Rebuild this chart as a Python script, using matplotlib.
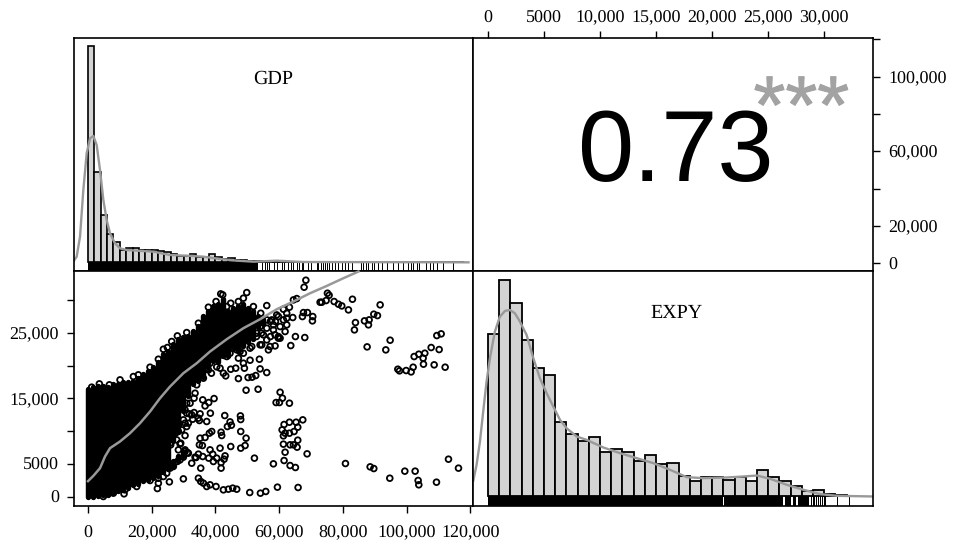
import matplotlib
matplotlib.use("Agg")
import matplotlib.pyplot as plt
import matplotlib.patheffects as pe

plt.rcParams["text.hinting"] = "no_hinting"
plt.rcParams["text.hinting_factor"] = 1

W, H = 955, 546
SERIF = "Liberation Serif"
SANS = "Liberation Sans"
GREY = "#999999"
BARC = "#d3d3d3"

# ---- histogram of GDP (bin width 2000, starting at 0)
gdp_bin_width = 2000
gdp_hist = [649, 272, 142, 84, 60, 37, 42, 42, 37, 37, 37, 35, 32, 25, 19, 19, 25, 17, 15, 25,
            15, 11, 12, 7, 6, 5, 4, 3, 5, 3, 3, 2, 2, 2, 1, 1, 1, 1, 1, 1,
            1, 1, 1, 1, 1, 1, 1, 1, 1, 1, 1, 1, 1, 1, 1, 1, 1, 0, 0]
gdp_kde_x = [-4610, -3560, -2510, -1470, -420, 630, 1680, 2720, 3770, 4820, 5860, 6910, 8480, 10050,
             12150, 15290, 20520, 25760, 30990, 36230, 41460, 46700, 51930, 59260, 67640, 119460]
gdp_kde_y = [2, 17, 77, 217, 327, 372, 379, 352, 277, 187, 127, 87, 57, 42,
             37, 35, 32, 22, 20, 17, 10, 5, 2, 5, 1, 0]
gdp_rug_dense = (0, 53500)
gdp_rug = [54550, 55600, 56120, 56960, 58430, 59260, 60830, 61560, 62920, 63660, 64500, 65750, 66380, 67110,
           67640, 69210, 69940, 71830, 72350, 73080, 73710, 74440, 75170, 75800, 76530, 77580, 78630, 79680,
           80720, 81770, 82820, 85650, 86480, 87320, 88050, 89100, 89830, 91190, 92240, 93810, 95900, 97480,
           98840, 100620, 101350, 102190, 103230, 104070, 106160, 107420, 108470, 109520, 111400, 114750]

# ---- histogram of EXPY (bin width 1000, starting at 0)
expy_bin_width = 1000
expy_hist = [486, 648, 580, 469, 383, 363, 223, 186, 166, 176, 133, 141, 133, 106, 123, 96, 100, 58, 43, 55,
             55, 47, 56, 43, 76, 56, 45, 29, 13, 17, 5, 1]
expy_kde_x = [-1310, -1010, -710, -420, -120, 180, 620, 1070, 1520, 1960, 2410, 2860, 3450, 4050, 4640, 5240,
              5830, 6430, 7020, 7920, 8810, 10300, 11790, 13270, 14760, 16250, 17740, 19220, 21310, 22800,
              23990, 25180, 26660, 28150, 29640, 31130, 34400]
expy_kde_y = [45, 93, 163, 253, 343, 413, 493, 538, 555, 558, 548, 523, 483, 413, 353, 308,
              268, 228, 203, 178, 168, 145, 128, 113, 98, 78, 56, 53, 55, 58,
              61, 51, 33, 18, 5, 0, -2]
expy_rug_dense = [(0, 20980), (21060, 26340), (26480, 27060), (27230, 27500), (27680, 28660), (28840, 28930),
                  (29020, 29150), (29240, 29330), (29420, 29510), (29600, 29740), (29825, 29915), (30000, 30140)]
expy_rug = [31140, 32170]

# ---- scatter: densely overplotted core, as EXPY extents for GDP columns
core_gdp = [0, 1570, 3140, 4710, 6280, 7850, 9420, 10990, 12560, 14130, 15700, 17270, 18840, 20410, 21980,
            23550, 25120, 26690, 26690, 28260, 28260, 29830, 29830, 31400, 32970, 34540, 36110, 37680, 39250,
            40820, 42390, 43960, 45530, 47100, 48670, 50240, 51810, 53380, 54950]
core_low = [0, 0, 100, 200, 300, 500, 800, 1000, 1300, 1700, 1900, 2300, 2500, 2800, 3200,
            3700, 4200, 4735, 8560, 5500, 10090, 6265, 13150, 15445, 17230, 17740, 18250, 19780, 20800,
            20545, 21565, 21565, 22840, 22330, 23095, 23605, 24115, 25900, 26410]
core_high = [16430, 16690, 16940, 16940, 16690, 17200, 17200, 17450, 17450, 17700, 18060, 18720, 19240, 19750, 20510,
             21790, 22300, 5465, 23315, 6230, 24080, 6740, 24335, 24590, 25355, 26120, 27650, 28415, 29180,
             29435, 30200, 28415, 28925, 29180, 29435, 28925, 28415, 27650, 27140]

# ---- scatter: individually readable points
gdp_points = [68400, 67850, 65540, 64500, 75170, 75700, 72870, 73390, 74760, 77270, 78630, 79680, 81770, 83030,
              91720, 90880, 89730, 88260, 86800, 88050, 83970, 83650, 70460, 70570, 68890, 67640, 67320, 64290,
              62400, 61880, 65120, 68060, 63660, 87630, 94860, 93500, 102400, 103860, 105750, 107740, 110250,
              109520, 110880, 105220, 105330, 108680, 112130, 102080, 101450, 99880, 97790, 97270,
              60310, 59050, 60100, 61040, 63240, 53400, 49630, 56120, 54030, 53820, 50880, 52660, 51510, 50260,
              47220, 43240, 42510, 44810, 46380, 40410, 38740, 37060, 48790, 49100, 47220, 56640, 58740, 59780, 56120,
              39580, 37900, 36020, 36750, 38420, 35180, 42930, 47850, 47950, 44600, 43760, 45020, 37270, 34970,
              32880, 47950, 49630, 49310, 47950, 44810, 41460, 41780, 41980, 38840, 38110, 36750, 35180, 34970,
              35910, 30470, 28900, 28370, 24710, 38320, 39160, 37900, 36020, 34660, 40410, 39370, 41780, 42720,
              43030, 41780, 33920, 32560, 35390, 52250, 58210, 61560, 63450, 65120, 68790, 61880, 61350, 63450,
              64500, 65650, 65860, 67430, 65330, 63240, 61560, 60940, 61880, 63240, 64700, 65860, 61350, 80830,
              88580, 89730, 94750, 99470, 102710, 103650, 103860, 109410, 113180, 116320,
              34660, 35390, 36230, 37270, 38320, 40200, 42510, 44080, 45440, 46700, 50780, 54130, 55810, 59470,
              65960, 29940, 25550, 21780, 22090, 11310,
              1150, 3560, 6700, 10050, 14240, 15810, 19470, 22090, 23660, 24920, 26280, 28060, 30990, 34660, 37800,
              40200, 41670, 42300, 43560, 44810, 47220, 48790, 49840, 51930, 54230, 56120, 58210, 60310, 61350,
              63240, 54550, 51410, 47740, 45650, 43560, 41460, 37800, 36230, 34130, 33610, 30990, 30990, 32560,
              30470, 28370, 27330, 25760, 30470, 31510, 28900, 26800, 24710, 22090, 19470, 15290, 11620, 7960,
              4820, 29940, 31510, 27850, 28370,
              57270, 58840, 56120, 58210, 59780, 57270, 54450, 52880, 56120, 61350, 59260, 62400,
              32040, 33290, 30470, 31830, 33290, 34660, 30990, 29420, 27640, 25970, 29110, 30470, 31200, 33610,
              29940, 28060, 25760, 23660, 34130, 35700, 36750, 38320, 41980, 44600, 46700, 48790, 50880, 54030,
              57170, 55070, 58740, 60310, 57690, 62400, 59780, 54030, 52980]
expy_points = [33100, 32030, 30290, 30090, 31110, 30800, 29730, 29730, 29990, 29840, 29430, 29170, 28560, 30190,
               29330, 27690, 27900, 27030, 26880, 26270, 26620, 25500, 26880, 27540, 28150, 28150, 27540, 27390,
               27290, 25250, 24480, 24330, 23100, 22900, 23920, 22440, 21420, 21780, 21930, 22800, 22490,
               24630, 24890, 21170, 20250, 20150, 19790, 19790, 19070, 19280, 19230, 19480,
               15960, 14380, 14380, 15050, 14280, 16420, 16270, 18970, 19530, 21010, 20860, 18510, 18260, 18210,
               18050, 18460, 18870, 19480, 19640, 19840, 18870, 19480, 20400, 19640, 21170, 22440, 23050, 24230, 29220,
               14990, 14380, 14790, 13870, 12750, 12650, 12390, 12340, 11780, 11420, 10710, 10910, 11480, 11630,
               11830, 9950, 8930, 7800, 7400, 7650, 7400, 9840, 9330, 9950, 9690, 9030, 8930, 7910,
               7800, 9330, 8060, 7140, 7550, 7140, 6480, 5870, 6120, 6480, 5870, 5360, 5200, 5710,
               6220, 4340, 5970, 5100, 4340, 5870, 5000, 5510, 4740, 4440, 6530, 6780, 8010, 7910,
               7910, 7550, 8620, 11730, 11370, 11370, 11020, 10200, 9690, 9690, 9950, 10610, 9280, 5050,
               4540, 4280, 2800, 3880, 3880, 2450, 1790, 2190, 5710, 4340,
               2800, 2300, 2040, 1530, 1790, 1530, 1020, 1120, 1280, 1120, 610, 510, 770, 1430,
               1380, 2700, 2240, 1220, 2040, 410,
               16730, 17240, 17090, 17850, 18360, 18620, 19790, 21010, 22540, 22800, 23720, 24580, 25090, 26520, 28970,
               29840, 31010, 30860, 29070, 29580, 29840, 30350, 31210, 29070, 28050, 27030, 26270, 24230, 28660,
               28970, 23210, 22950, 22190, 22700, 21420, 19640, 19380, 18110, 17090, 15810, 14280, 12750, 12500,
               11220, 9950, 9690, 8160, 6890, 6630, 5610, 4590, 3570, 2800, 2450, 1530, 1020, 510,
               0, 11730, 11220, 8670, 10960,
               26780, 26780, 25760, 25500, 24480, 24480, 24990, 24480, 23970, 27030, 27790, 28050,
               14280, 15050, 13260, 12650, 12850, 11990, 10710, 10200, 9790, 7910, 8160, 7140, 6730, 6020,
               6020, 5360, 4340, 3060, 18360, 18870, 19640, 20400, 21680, 21930, 22440, 21930, 22700, 23210,
               22950, 24740, 24740, 26010, 27030, 26270, 27540, 26010, 24990]
loess_gdp = [0, 1680, 3770, 5340, 6910, 10050, 13190, 16330, 19470, 22620, 25760, 29940, 34130, 38320, 43560,
             48790, 54030, 59260, 64500, 69730, 74970, 80200, 84910]
loess_expy = [2350, 3160, 4340, 6120, 7400, 8420, 9690, 11220, 13000, 15050, 16830, 18870, 20400, 22190, 24070,
              25760, 27130, 28660, 29840, 31110, 32230, 33410, 34430]

# ---- ticks and labels
gdp_ticks = [0, 20000, 40000, 60000, 80000, 100000, 120000]
gdp_ticklabels = ["0", "20,000", "40,000", "60,000", "80,000", "100,000", "120,000"]
expy_left_ticks = [0, 5000, 10000, 15000, 20000, 25000, 30000]
expy_left_labels = ["0", "5000", "", "15,000", "", "25,000", ""]
expy_top_ticks = [0, 5000, 10000, 15000, 20000, 25000, 30000]
expy_top_labels = ["0", "5000", "10,000", "15,000", "20,000", "25,000", "30,000"]
gdp_right_ticks = [0, 20000, 40000, 60000, 80000, 100000, 120000]
gdp_right_labels = ["0", "20,000", "", "60,000", "", "100,000", ""]
corr_text = "0.73"
stars_text = "***"

fig = plt.figure(figsize=(W / 100, H / 100), dpi=100, facecolor="white")


def panel(x0, y0, x1, y1):
    ax = fig.add_axes([x0 / W, 1 - y1 / H, (x1 - x0) / W, (y1 - y0) / H])
    for s in ax.spines.values():
        s.set_linewidth(1.2)
    ax.tick_params(length=5, width=1.0, labelsize=13.1, labelfontfamily=SERIF)
    ax.set_xticks([])
    ax.set_yticks([])
    return ax


XL, XM, XR = 73.5, 473.2, 873
YT, YM, YB = 38, 271, 505.8
GDP_LIM = (-4555, 120940)
EXPY_LIM = (-1312, 34348)

# top-left: GDP histogram
ax = panel(XL, YT, XM, YM)
ax.set_xlim(*GDP_LIM)
ax.set_ylim(-26, 673)
ax.bar([i * gdp_bin_width for i in range(len(gdp_hist))], gdp_hist, width=gdp_bin_width, align="edge",
       color=BARC, edgecolor="black", linewidth=1.2)
ax.broken_barh([(gdp_rug_dense[0], gdp_rug_dense[1] - gdp_rug_dense[0])], (-26, 26), color="black", linewidth=0)
ax.vlines(gdp_rug, -26, 0, color="black", linewidth=0.7)
ax.plot(gdp_kde_x, gdp_kde_y, color=GREY, linewidth=1.7)
ax.text(0.5, 0.8235, "GDP", transform=ax.transAxes, ha="center", va="center", family=SERIF, fontsize=14.4)

# top-right: correlation
ax = panel(XM, YT, XR, YM)
ax.set_xlim(*EXPY_LIM)
ax.set_ylim(-4129, 120804)
ax.xaxis.tick_top()
ax.yaxis.tick_right()
ax.set_xticks(expy_top_ticks, expy_top_labels)
ax.set_yticks(gdp_right_ticks, gdp_right_labels)
ax.tick_params(axis="x", pad=3.4)
ax.tick_params(axis="y", pad=6.2)
ax.text(0.505, 0.50, corr_text, transform=ax.transAxes, ha="center", va="center", family=SANS, fontsize=73)
ax.text(0.8208, 0.683, stars_text, transform=ax.transAxes, ha="center", va="center", family=SANS,
        fontsize=59, color="#a3a3a3",
        path_effects=[pe.withStroke(linewidth=0.7, foreground="#a3a3a3")])

# bottom-left: scatter
ax = panel(XL, YM, XM, YB)
ax.set_xlim(*GDP_LIM)
ax.set_ylim(-1422, 34511)
ax.set_xticks(gdp_ticks, gdp_ticklabels)
ax.set_yticks(expy_left_ticks, expy_left_labels)
ax.tick_params(axis="x", pad=9.0)
ax.tick_params(axis="y", pad=5.5)
core = ax.vlines(core_gdp, core_low, core_high, color="black", linewidth=3.9)
core.set_capstyle("round")
ax.scatter(gdp_points, expy_points, s=17, facecolors="none", edgecolors="black", linewidths=1.3)
ax.plot(loess_gdp, loess_expy, color=GREY, linewidth=1.8, clip_on=False, zorder=5)

# bottom-right: EXPY histogram
ax = panel(XM, YM, XR, YB)
ax.set_xlim(*EXPY_LIM)
ax.set_ylim(-30, 675)
ax.bar([i * expy_bin_width for i in range(len(expy_hist))], expy_hist, width=expy_bin_width, align="edge",
       color=BARC, edgecolor="black", linewidth=1.3)
ax.broken_barh([(a, b - a) for a, b in expy_rug_dense], (-30, 30), color="black", linewidth=0)
ax.vlines(expy_rug, -30, 0, color="black", linewidth=0.7)
ax.plot(expy_kde_x, expy_kde_y, color=GREY, linewidth=1.7)
ax.text(0.5075, 0.8185, "EXPY", transform=ax.transAxes, ha="center", va="center", family=SERIF, fontsize=14.4)

fig.savefig("out.png", dpi=100)
